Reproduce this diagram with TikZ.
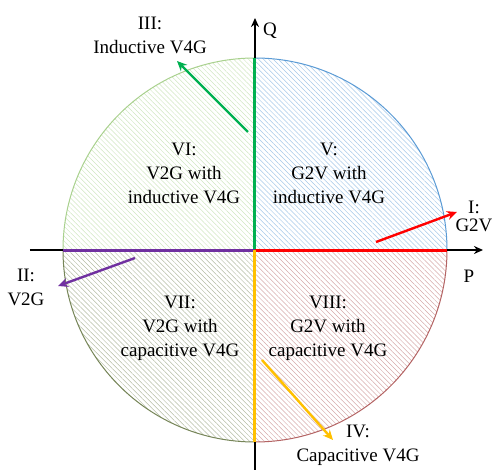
\documentclass[tikz,border=0pt]{standalone}
\usepackage{fontspec}
\setmainfont{Liberation Serif}
\usetikzlibrary{arrows.meta,patterns.meta}
\definecolor{qblue}{RGB}{91,155,213}
\definecolor{qgreen}{RGB}{169,209,142}
\definecolor{qolive}{RGB}{118,133,88}
\definecolor{qred}{RGB}{180,100,100}
\definecolor{lgreen}{RGB}{0,176,80}
\definecolor{lred}{RGB}{255,0,0}
\definecolor{lpurple}{RGB}{112,48,160}
\definecolor{lorange}{RGB}{255,192,0}
\begin{document}
\begin{tikzpicture}[x=1pt, y=1pt, >={Stealth[length=9pt,width=8pt]},
		font=\fontsize{19}{24}\selectfont,
		lab/.style={align=center, inner sep=0pt},
		axis/.style={->, line width=1.6pt},
		mode/.style={line width=3pt},
		move/.style={->, line width=2.4pt, >={Stealth[length=10pt,width=9pt]}}]
		\useasboundingbox (-255,-219) rectangle (238,250);
		% quadrants
		\foreach \a/\c in {0/qblue,90/qgreen,180/qolive,270/qred}{
			\draw[\c, line width=1pt, pattern={Lines[angle=-45,distance=3.5pt,line width=0.5pt]}, pattern color=\c!55]
				(0,0) -- (\a:192) arc (\a:\a+90:192) -- cycle;
		}
		\coordinate (O) at (0,0);
		\coordinate (E) at (192,0);
		\coordinate (N) at (0,192);
		\coordinate (W) at (-192,0);
		\coordinate (S) at (0,-192);
		% axes
		\coordinate (xa) at (-225,0);
		\coordinate (xb) at (228,0);
		\coordinate (ya) at (0,-222);
		\coordinate (yb) at (0,232);
		\draw[axis] (xa) -- (xb);
		\draw[axis] (ya) -- (yb);
		\node[lab] (P) at (214,-26) {P};
		\node[lab] (Q) at (15,219) {Q};
		% operating modes on the axes
		\draw[mode, lgreen] (O) -- (N);
		\draw[mode, lred] (O) -- (E);
		\draw[mode, lpurple] (O) -- (W);
		\draw[mode, lorange] (O) -- (S);
		% arrows
		\coordinate (g1) at (-7,118);
		\coordinate (g2) at (-78,189);
		\coordinate (r1) at (121,8);
		\coordinate (r2) at (202,38);
		\coordinate (p1) at (-120,-8);
		\coordinate (p2) at (-197,-36);
		\coordinate (o1) at (7,-110);
		\coordinate (o2) at (78,-190);
		\draw[move, lgreen] (g1) -- (g2);
		\draw[move, lred] (r1) -- (r2);
		\draw[move, lpurple] (p1) -- (p2);
		\draw[move, lorange] (o1) -- (o2);
		% labels
		\node[lab] (mI) at (219,34) {I:\\[-6pt]G2V};
		\node[lab] (mII) at (-229,-37) {II:\\V2G};
		\node[lab] (mIII) at (-105,215) {III:\\Inductive V4G};
		\node[lab] (mIV) at (103,-195) {IV:\\Capacitive V4G};
		\node[lab] (mV) at (74,77) {V:\\G2V with\\inductive V4G};
		\node[lab] (mVI) at (-71,77) {VI:\\V2G with\\inductive V4G};
		\node[lab] (mVII) at (-75,-78) {VII:\\V2G with\\capacitive V4G};
		\node[lab] (mVIII) at (73,-78) {VIII:\\G2V with\\capacitive V4G};
	\end{tikzpicture}
\end{document}
